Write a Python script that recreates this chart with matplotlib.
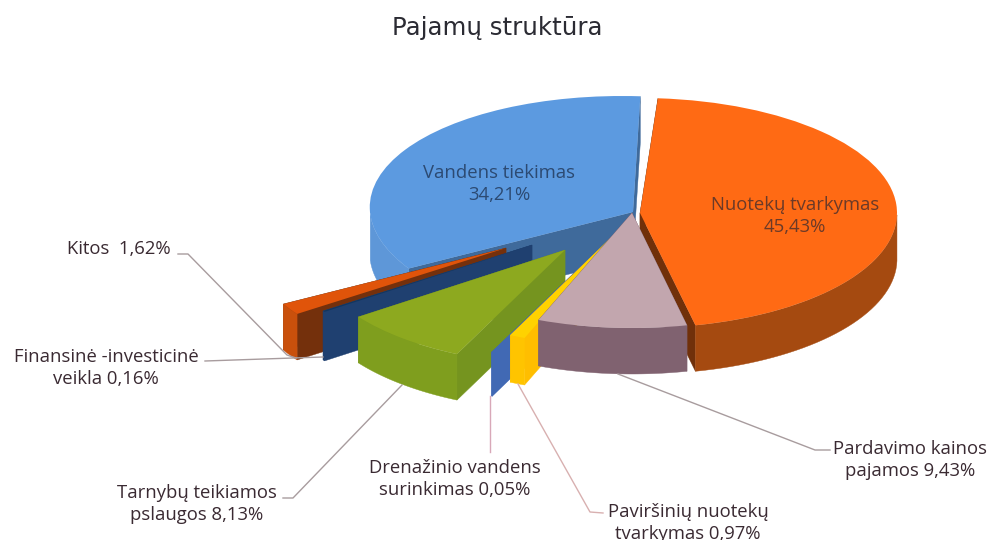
import numpy as np
import matplotlib
matplotlib.use('Agg')
import matplotlib.pyplot as plt
from matplotlib.transforms import Affine2D

# Slices, clockwise from the top
names = ['Nuotekų tvarkymas', 'Pardavimo kainos pajamos', 'Paviršinių nuotekų tvarkymas',
         'Drenažinio vandens surinkimas', 'Tarnybų teikiamos pslaugos',
         'Finansinė -investicinė veikla', 'Kitos', 'Vandens tiekimas']
values = [45.43, 9.43, 0.97, 0.05, 8.13, 0.16, 1.62, 34.21]

top_colors = ['#FF6A14', '#C2A6AE', '#FFD200', '#4169B4', '#8DA91F', '#12365F', '#E0540A', '#5C9AE0']
arc_colors = ['#A54A10', '#806270', '#FFC400', '#4169B4', '#7F9E1E', '#1F4070', '#C9500C', '#5E97D8']
side_colors = ['#70300A', '#806270', '#FFBE00', '#4169B4', '#75941F', '#1F4070', '#74300C', '#3F6A9B']

# Exploded layout in pixels: apex x, apex y, radius x, radius y, depth, skew
apex_x = [640, 632, 618, 600, 565, 532, 506, 633]
apex_y = [213, 213, 231, 248, 250, 245, 248, 212]
rad_x = [257, 255, 255, 255, 254, 255, 255, 263]
rad_y = [115, 115, 115, 115, 115, 115, 115, 116]
depth = [46, 46, 47, 44, 46, 49, 46, 46]
skew = [0, 0, 0, 0, 0, 0, 0, 0.095]
draw_order = [7, 6, 5, 4, 3, 2, 0, 1]

fig = plt.figure(figsize=(9.94, 5.40), dpi=100)
ax = fig.add_axes([0, 0, 1, 1])

wedges, _ = ax.pie(values, colors=top_colors, startangle=86, counterclock=False,
                   wedgeprops={'linewidth': 0})

ax.set_aspect('auto')
ax.set_xlim(0, 994)
ax.set_ylim(540, 0)
ax.axis('off')

for z, i in enumerate(draw_order):
    w = wedges[i]
    cx, cy, a, b, d, s = apex_x[i], apex_y[i], rad_x[i], rad_y[i], depth[i], skew[i]
    th = np.radians(np.linspace(w.theta1, w.theta2, 80))
    x = cx + a * np.cos(th) - s * b * np.sin(th)
    y = cy - b * np.sin(th)
    # flat sides of the slice
    for e in (0, -1):
        ax.fill([cx, x[e], x[e], cx], [cy, y[e], y[e] + d, cy + d],
                color=side_colors[i], lw=0.3, zorder=z * 3 + 1)
    # rounded outer side, only the part facing the viewer
    m = np.sin(th) < 0
    if m.sum() > 1:
        ax.fill(np.r_[x[m], x[m][::-1]], np.r_[y[m], y[m][::-1] + d],
                color=arc_colors[i], lw=0.3, zorder=z * 3 + 2)
    mtx = np.array([[a, -s * b, cx], [0, -b, cy], [0, 0, 1.0]])
    w.set_transform(Affine2D(mtx) + ax.transData)
    w.set_zorder(z * 3 + 3)

# Leader lines
line_col = '#A89C9E'
ax.plot([178, 188, 287, 296], [254, 254, 355, 358], color=line_col, lw=1, zorder=40)
ax.plot([205, 293, 323], [361, 358, 357], color=line_col, lw=1, zorder=40)
ax.plot([283, 293, 402], [498, 498, 385], color=line_col, lw=1, zorder=40)
ax.plot([490, 490], [396, 452], color='#D8A8B8', lw=1, zorder=40)
ax.plot([518, 590, 603], [384, 512, 513], color='#D8B0B0', lw=1, zorder=40)
ax.plot([618, 815, 830], [374, 450, 450], color=line_col, lw=1, zorder=40)

# Texts
ax.text(497, 28, 'Pajamų struktūra', ha='center', va='center', fontsize=17.6,
        color='#2B2B33', family='DejaVu Sans')

lab_col = '#3A2A32'
lab_font = 'Open Sans'
lab_size = 13.3
ax.text(499, 184, 'Vandens tiekimas\n34,21%', ha='center', va='center', fontsize=lab_size,
        color='#2C4A72', family=lab_font, linespacing=1.28, zorder=50)
ax.text(795, 216, 'Nuotekų tvarkymas\n45,43%', ha='center', va='center', fontsize=lab_size,
        color='#6B3A28', family=lab_font, linespacing=1.28, zorder=50)
ax.text(119, 249, 'Kitos  1,62%', ha='center', va='center', fontsize=lab_size,
        color=lab_col, family=lab_font, zorder=50)
ax.text(106, 368, 'Finansinė -investicinė\nveikla 0,16%', ha='center', va='center', fontsize=lab_size,
        color=lab_col, family=lab_font, linespacing=1.28, zorder=50)
ax.text(197, 504, 'Tarnybų teikiamos\npslaugos 8,13%', ha='center', va='center', fontsize=lab_size,
        color=lab_col, family=lab_font, linespacing=1.28, zorder=50)
ax.text(455, 479, 'Drenažinio vandens\nsurinkimas 0,05%', ha='center', va='center', fontsize=lab_size,
        color=lab_col, family=lab_font, linespacing=1.28, zorder=50)
ax.text(688, 523, 'Paviršinių nuotekų\ntvarkymas 0,97%', ha='center', va='center', fontsize=lab_size,
        color=lab_col, family=lab_font, linespacing=1.28, zorder=50)
ax.text(910, 460, 'Pardavimo kainos\npajamos 9,43%', ha='center', va='center', fontsize=lab_size,
        color=lab_col, family=lab_font, linespacing=1.28, zorder=50)

plt.savefig('out.png', dpi=100)
